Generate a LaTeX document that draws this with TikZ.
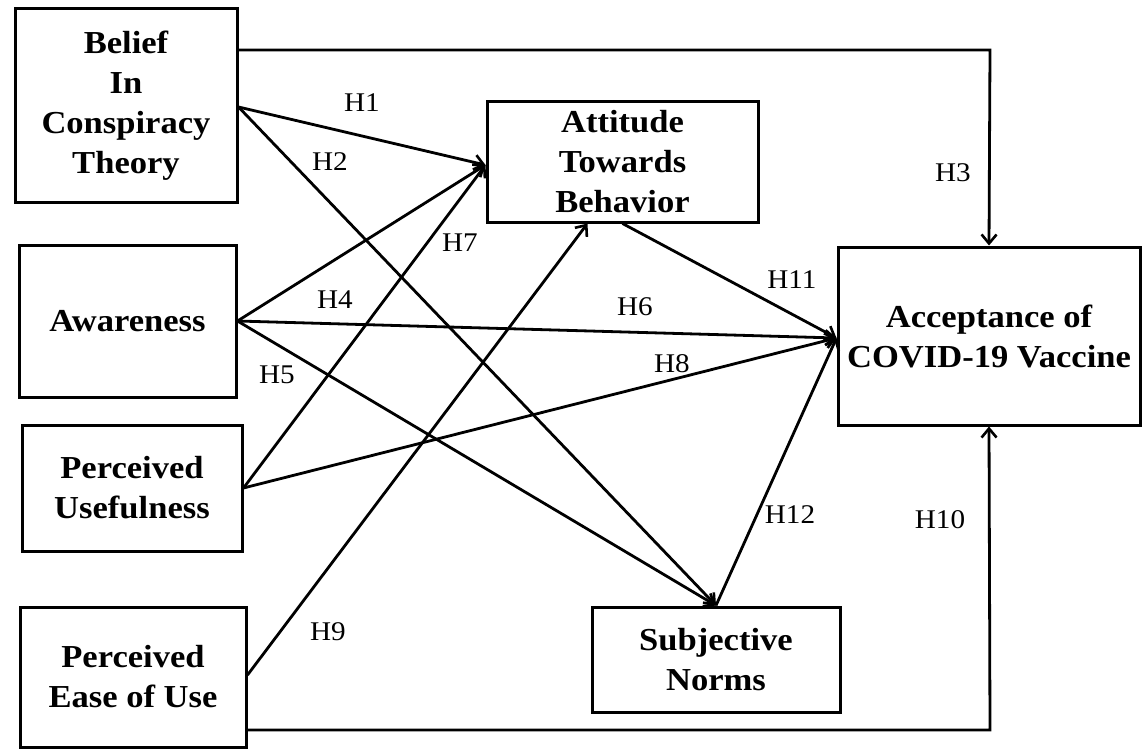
\documentclass[tikz,border=0pt]{standalone}
\usepackage{fontspec}
\setmainfont{Liberation Serif}[FakeStretch=1.08]
\usetikzlibrary{arrows.meta,calc}
\tikzset{
  x=1pt,y=-1pt,
  varbox/.style={draw=black,line width=3pt,rectangle,inner sep=0pt,align=center,
    font=\fontsize{32}{40}\selectfont\bfseries},
  hlabel/.style={inner sep=0pt,font=\fontsize{27}{30}\selectfont},
  link/.style={line width=2.8pt,-{Straight Barb[length=9pt,width=15pt,line width=2.6pt]}}
}
\begin{document}
\begin{tikzpicture}
\useasboundingbox (0,0) rectangle (1145,749);
% boxes
\node[varbox,minimum width=222pt,minimum height=193pt] (bel) at (126,105.5) {Belief\\In\\Conspiracy\\Theory};
\node[varbox,minimum width=217pt,minimum height=152pt] (aw) at (127.5,321) {Awareness};
\node[varbox,minimum width=220pt,minimum height=126pt] (pu) at (132,488) {Perceived\\Usefulness};
\node[varbox,minimum width=226pt,minimum height=140pt] (peu) at (133,677) {Perceived\\Ease of Use};
\node[varbox,minimum width=271pt,minimum height=120pt] (att) at (622.5,162) {Attitude\\Towards\\Behavior};
\node[varbox,minimum width=302pt,minimum height=178pt] (acc) at (989,336) {Acceptance of\\COVID-19 Vaccine};
\node[varbox,minimum width=248pt,minimum height=105pt] (sn) at (716,659.5) {Subjective\\Norms};
% waypoints
\coordinate (c3) at (990,50);
\coordinate (c10) at (990,730);
% connectors
\draw[link] ([yshift=-1.5pt]bel.east) -- ([yshift=-3pt]att.west);
\draw[link] ([yshift=-1.5pt]bel.east) -- (sn.north);
\draw[link] (bel.east |- c3) -- (c3) -- (acc.north);
\draw[link] (aw.east) -- ([yshift=-3pt]att.west);
\draw[link] (aw.east) -- ([yshift=-2pt]acc.west);
\draw[link] (aw.east) -- (sn.north);
\draw[link] (pu.east) -- ([yshift=-3pt]att.west);
\draw[link] (pu.east) -- ([yshift=-2pt]acc.west);
\draw[link] ([yshift=2pt]peu.east) -- ([xshift=-35pt]att.south);
\draw[link] ([yshift=-53pt]peu.east) -- (c10) -- (acc.south);
\draw[link] (att.south) -- ([yshift=-2pt]acc.west);
\draw[link] (sn.north) -- ([yshift=-2pt]acc.west);
% labels
\node[hlabel] (h1) at (362,103) {H1};
\node[hlabel] (h2) at (330,162) {H2};
\node[hlabel] (h3) at (953,173) {H3};
\node[hlabel] (h4) at (335,300) {H4};
\node[hlabel] (h5) at (277,375) {H5};
\node[hlabel] (h6) at (635,307) {H6};
\node[hlabel] (h7) at (460,243) {H7};
\node[hlabel] (h8) at (672,364) {H8};
\node[hlabel] (h9) at (328,632) {H9};
\node[hlabel] (h10) at (940,520) {H10};
\node[hlabel] (h11) at (792,280) {H11};
\node[hlabel] (h12) at (790,515) {H12};
\end{tikzpicture}
\end{document}
